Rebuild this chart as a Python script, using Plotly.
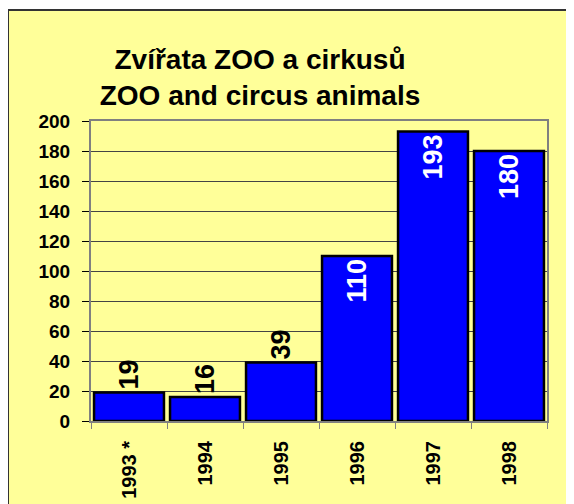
import plotly.graph_objects as go

years = ["1993 *", "1994", "1995", "1996", "1997", "1998"]
animals = [19, 16, 39, 110, 193, 180]

FONT = "Liberation Sans, Arial, sans-serif"

# the page body adds an 8px offset, so the figure is 8px smaller each way
W, H = 566, 496
L, T, R, B = 83, 113, 27, 83

# tall bars carry their label inside (white), short ones above (black)
positions = ["inside" if v > 100 else "outside" for v in animals]
label_colors = ["white" if p == "inside" else "black" for p in positions]

fig = go.Figure(
    go.Bar(
        x=years,
        y=animals,
        text=[str(v) for v in animals],
        textposition=positions,
        insidetextanchor="end",
        textangle=-90,
        textfont={"family": FONT, "size": 27, "color": label_colors, "weight": "bold"},
        cliponaxis=False,
        marker={"color": "#0000FF", "line": {"color": "black", "width": 2.5}},
    )
)

plot_w = W - L - R
plot_h = H - T - B

fig.update_layout(
    width=W,
    height=H,
    autosize=False,
    margin={"l": L, "r": R, "t": T, "b": B},
    paper_bgcolor="white",
    plot_bgcolor="white",
    bargap=0.08,
    showlegend=False,
    font={"family": FONT, "color": "black"},
    title={
        "text": "<b>Zvířata ZOO a cirkusů<br>ZOO and circus animals</b>",
        "font": {"family": FONT, "size": 28, "color": "black"},
        "x": 252 / W,
        "xref": "container",
        "xanchor": "center",
        "y": 1 - 61 / H,
        "yref": "container",
        "yanchor": "top",
        "automargin": False,
    },
    shapes=[
        {
            "type": "rect",
            "xref": "paper",
            "yref": "paper",
            "x0": -L / plot_w,
            "x1": 1.3,
            "y0": -0.6,
            "y1": 1 + (T - 2) / plot_h,
            "fillcolor": "#FFFF99",
            "line": {"color": "#333333", "width": 2},
            "layer": "below",
        }
    ],
)

fig.update_xaxes(
    type="category",
    automargin=False,
    tickson="boundaries",
    ticks="outside",
    ticklen=6,
    tickcolor="#808080",
    tickangle=-90,
    tickfont={"family": FONT, "size": 20, "color": "black", "weight": "bold"},
    ticklabelstandoff=10,
    showline=True,
    linecolor="#808080",
    linewidth=2,
    mirror=True,
    showgrid=False,
)
fig.update_yaxes(
    automargin=False,
    range=[0, 200],
    dtick=20,
    showgrid=True,
    gridcolor="#444444",
    gridwidth=1,
    ticks="outside",
    ticklen=7,
    tickcolor="black",
    tickfont={"family": FONT, "size": 19, "color": "black", "weight": "bold"},
    ticklabelstandoff=8,
    showline=True,
    linecolor="#808080",
    linewidth=2,
    mirror=True,
    zeroline=False,
)

fig.write_html("out.html")
